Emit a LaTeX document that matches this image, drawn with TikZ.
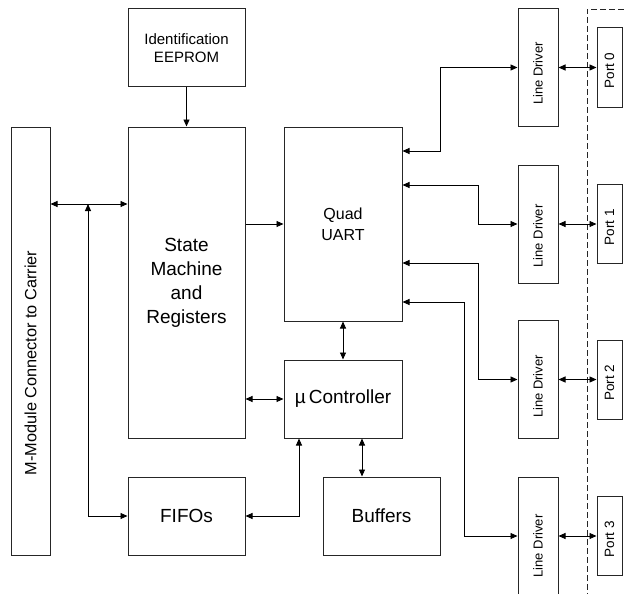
\documentclass[tikz,border=0pt]{standalone}
\usepackage{fontspec}
\setmainfont{Liberation Sans}
\usetikzlibrary{arrows.meta}
\begin{document}
\begin{tikzpicture}[x=1pt,y=-1pt,
  box/.style={draw=black!85, line width=1pt, inner sep=0pt, align=center},
  bigtxt/.style={font=\fontsize{19}{24}\selectfont},
  ldbox/.style={box, minimum width=40pt, minimum height=118pt},
  portbox/.style={box, minimum width=25pt, minimum height=79pt},
  ldtxt/.style={rotate=90, font=\fontsize{13}{15}\selectfont, inner sep=0pt},
  porttxt/.style={rotate=90, font=\fontsize{13.5}{15}\selectfont, inner sep=0pt},
  conn/.style={line width=0.9pt, draw=black},
  >={Triangle[length=7pt,width=6pt]}]
\useasboundingbox (0,0) rectangle (624,594);
% boxes
\node[box, minimum width=117pt, minimum height=78pt,
      font=\fontsize{15}{18}\selectfont] (eep) at (186.5,48) {Identification\\EEPROM};
\node[box, minimum width=117pt, minimum height=311pt, bigtxt] (sm) at (186.5,282.5) {State\\Machine\\and\\Registers};
\node[box, minimum width=39pt, minimum height=428pt] (mm) at (30.5,341) {};
\node[rotate=90, font=\fontsize{16.3}{18}\selectfont, inner sep=0pt] (mmt) at ([yshift=-22pt]mm.center) {M-Module Connector to Carrier};
\node[box, minimum width=118pt, minimum height=194pt, font=\fontsize{16}{21}\selectfont] (uart) at (343,224) {Quad\\UART};
\node[box, minimum width=118pt, minimum height=78pt, bigtxt] (ctrl) at (343,399) {µ\,Controller};
\node[box, minimum width=117pt, minimum height=78pt, bigtxt] (fifo) at (186.5,516) {FIFOs};
\node[box, minimum width=117pt, minimum height=78pt, bigtxt] (buf) at (381.5,516) {Buffers};
% line drivers
\node[ldbox] (ld0) at (538,67.5) {};
\node[ldbox] (ld1) at (538,224) {};
\node[ldbox] (ld2) at (538,379.5) {};
\node[ldbox] (ld3) at (538,536) {};
\node[ldtxt] (ld0t) at ([yshift=-6pt]ld0.center) {Line Driver};
\node[ldtxt] (ld1t) at ([yshift=-12pt]ld1.center) {Line Driver};
\node[ldtxt] (ld2t) at ([yshift=-7pt]ld2.center) {Line Driver};
\node[ldtxt] (ld3t) at ([yshift=-10pt]ld3.center) {Line Driver};
% ports
\node[portbox] (p0) at (609.5,67.5) {};
\node[portbox] (p1) at (609.5,224) {};
\node[portbox] (p2) at (609.5,379.5) {};
\node[portbox] (p3) at (609.5,536) {};
\node[porttxt] (p0t) at ([yshift=-3pt]p0.center) {Port 0};
\node[porttxt] (p1t) at ([yshift=-3pt]p1.center) {Port 1};
\node[porttxt] (p2t) at ([yshift=-3pt]p2.center) {Port 2};
\node[porttxt] (p3t) at ([yshift=-3pt]p3.center) {Port 3};
% dashed boundary
\coordinate (dtop) at (624,9);
\coordinate (dcorner) at (587,9);
\coordinate (dbot) at (587,600);
\draw[black!85, line width=0.9pt, dash pattern=on 6pt off 3pt] (dtop) -- (dcorner) -- (dbot);
% helper coordinates
\coordinate (bus) at (88,204);
\coordinate (k0) at (440,151);
\coordinate (k1) at (478,185);
\coordinate (k2) at (478,263);
\coordinate (k3) at (464,302);
\coordinate (cb) at (362,0);
\coordinate (fc) at (299,516);
% connectors
\draw[conn,->] (eep.south) -- (sm.north);
\draw[conn,<->] (mm.east |- bus) -- (sm.west |- bus);
\draw[conn,<->] (bus) |- (fifo.west);
\draw[conn,->] (sm.east |- uart.west) -- (uart.west);
\draw[conn,<->] (sm.east |- ctrl.west) -- (ctrl.west);
\draw[conn,<->] (uart.south) -- (ctrl.north);
\draw[conn,<->] (ctrl.south -| cb) -- (buf.north -| cb);
\draw[conn,<->] (fifo.east) -| (fc |- ctrl.south);
\draw[conn,<->] (ld0.west) -| (k0) -- (k0 -| uart.east);
\draw[conn,<->] (ld1.west) -| (k1) -- (k1 -| uart.east);
\draw[conn,<->] (ld2.west) -| (k2) -- (k2 -| uart.east);
\draw[conn,<->] (ld3.west) -| (k3) -- (k3 -| uart.east);
\draw[conn,<->] (ld0.east) -- (p0.west);
\draw[conn,<->] (ld1.east) -- (p1.west);
\draw[conn,<->] (ld2.east) -- (p2.west);
\draw[conn,<->] (ld3.east) -- (p3.west);
\end{tikzpicture}
\end{document}
